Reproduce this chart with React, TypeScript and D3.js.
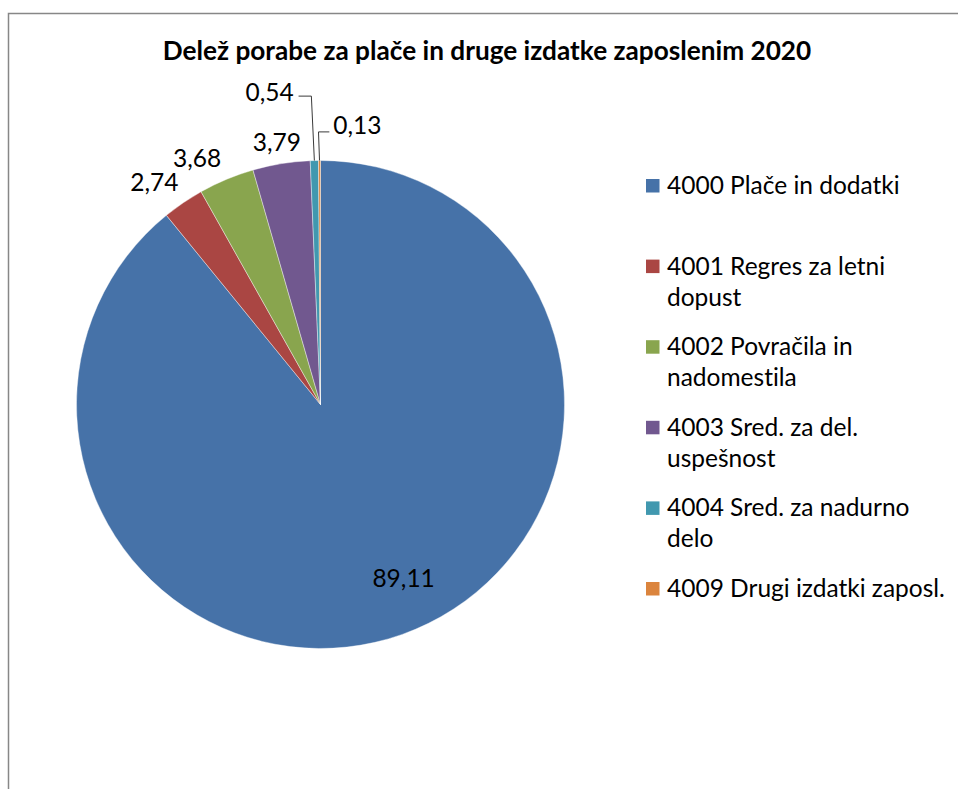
import * as d3 from 'd3';

const title = 'Delež porabe za plače in druge izdatke zaposlenim 2020';

const categories = [
  '4000 Plače in dodatki',
  '4001 Regres za letni dopust',
  '4002 Povračila in nadomestila',
  '4003 Sred. za del. uspešnost',
  '4004 Sred. za nadurno delo',
  '4009 Drugi izdatki zaposl.',
];

// how the legend wraps each entry
const legendLines = [
  ['4000 Plače in dodatki'],
  ['4001 Regres za letni', 'dopust'],
  ['4002 Povračila in', 'nadomestila'],
  ['4003 Sred. za del.', 'uspešnost'],
  ['4004 Sred. za nadurno', 'delo'],
  ['4009 Drugi izdatki zaposl.'],
];

const values = [89.11, 2.74, 3.68, 3.79, 0.54, 0.13];

const colors = ['#4672A8', '#AA4643', '#89A54E', '#71588F', '#4198AF', '#DB843D'];

// label placement: radius factor and small nudges, leader = has a callout line
const labelPlace = [
  { k: 0.79, dx: 18.5, dy: -8, leader: false },
  { k: 1.115, dx: -13, dy: 3, leader: false },
  { k: 1.115, dx: -18.5, dy: 5.5, leader: false },
  { k: 1.115, dx: 0, dy: 7, leader: false },
  { k: 1.295, dx: -43, dy: 4, leader: 'left' },
  { k: 1.15, dx: 38, dy: 2, leader: 'right' },
];

const W = 958;
const H = 789;
const FONT = 'Lato, "Noto Sans", sans-serif';

type Row = { name: string; value: number; i: number };

export default function App() {
  const cx = 320.5;
  const cy = 404.5;
  const r = 244;

  const rows: Row[] = categories.map((name, i) => ({ name, value: values[i], i }));

  const pie = d3
    .pie<Row>()
    .sort(null)
    .value((d) => d.value)
    .startAngle(0)
    .endAngle(2 * Math.PI);

  const arcs = pie(rows);

  const arc = d3.arc<d3.PieArcDatum<Row>>().innerRadius(0).outerRadius(r);

  const color = d3.scaleOrdinal<string, string>().domain(categories).range(colors);

  const fmt = (v: number) => d3.format('.2f')(v).replace('.', ',');

  const polar = (rad: number, a: number): [number, number] => [
    Math.sin(a) * rad,
    -Math.cos(a) * rad,
  ];

  const legendY = d3.scalePoint<string>().domain(categories).range([194, 597]);

  return (
    <svg
      width={W}
      height={H}
      style={{
        position: 'absolute',
        left: 0,
        top: 0,
        display: 'block',
        background: '#fff',
        fontVariantLigatures: 'none',
      }}
      fontFamily={FONT}
    >
      <rect x={8.5} y={13.5} width={W + 20} height={H + 20} fill="#fff" stroke="#878787" strokeWidth={1.5} />

      <text x={487} y={60} textAnchor="middle" fontSize={26.2} fontWeight={700} fill="#000">
        {title}
      </text>

      <g transform={`translate(${cx},${cy})`}>
        {arcs.map((a) => (
          <path key={a.data.name} d={arc(a) ?? ''} fill={color(a.data.name)} stroke="#fff" strokeWidth={0.4} />
        ))}

        {arcs.map((a) => {
          const p = labelPlace[a.data.i];
          const mid = (a.startAngle + a.endAngle) / 2;
          const [px, py] = polar(r * p.k, mid);
          const lx = px + p.dx;
          const ly = py + p.dy;
          const [ex, ey] = polar(r, mid);
          let leader = null;
          if (p.leader === 'left') {
            const elbowX = ex - 3;
            const elbowY = ly + 3.5;
            leader = (
              <polyline
                points={`${lx + 29},${elbowY} ${elbowX},${elbowY} ${ex},${ey}`}
                fill="none"
                stroke="#3a3a3a"
                strokeWidth={1}
              />
            );
          } else if (p.leader === 'right') {
            const elbowX = ex - 1;
            const elbowY = ly + 6;
            leader = (
              <polyline
                points={`${ex},${ey} ${elbowX},${elbowY} ${lx - 28},${elbowY}`}
                fill="none"
                stroke="#3a3a3a"
                strokeWidth={1}
              />
            );
          }
          return (
            <g key={'l' + a.data.name}>
              {leader}
              <text x={lx} y={ly + 8.5} textAnchor="middle" fontSize={24.5} fill="#000">
                {fmt(a.data.value)}
              </text>
            </g>
          );
        })}
      </g>

      <g>
        {categories.map((c, i) => {
          const y = legendY(c) ?? 0;
          return (
            <g key={'lg' + c}>
              <rect x={646} y={y - 15} width={13.5} height={13.5} fill={color(c)} />
              {legendLines[i].map((line, j) => (
                <text key={j} x={667} y={y + j * 31} fontSize={24.5} fill="#000">
                  {line}
                </text>
              ))}
            </g>
          );
        })}
      </g>
    </svg>
  );
}
